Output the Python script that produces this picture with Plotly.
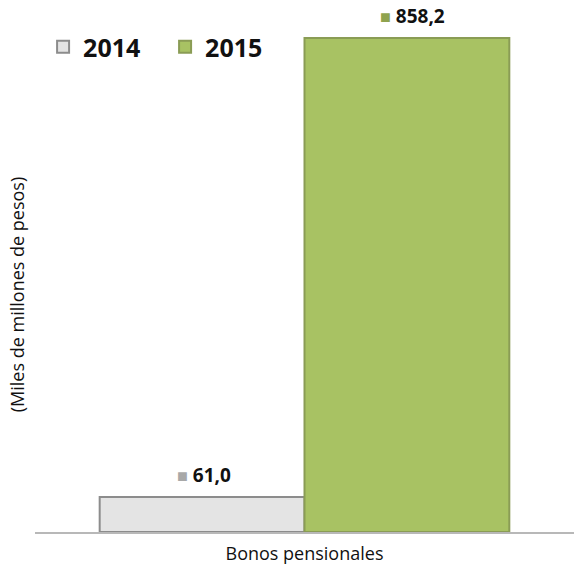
import plotly.graph_objects as go

# data
categories = ["Bonos pensionales"]
values_2014 = [61.0]
values_2015 = [858.2]
labels_2014 = ["61,0"]
labels_2015 = ["858,2"]

fill_colors = {"2014": "#e4e4e4", "2015": "#a8c263"}
edge_colors = {"2014": "#8c8c8c", "2015": "#8a9c55"}
square_colors = {"2014": "#a8a8a8", "2015": "#8fa34e"}

fig = go.Figure()

series = [("2014", values_2014, labels_2014, -101),
          ("2015", values_2015, labels_2015, 108)]

for year, vals, labs, shift in series:
    fig.add_trace(go.Bar(
        x=categories,
        y=vals,
        name=f"<b>{year}</b>",
        marker=dict(color=fill_colors[year], line=dict(color=edge_colors[year], width=2)),
        hoverinfo="x+y",
    ))
    # value label above each bar
    for cat, v, t in zip(categories, vals, labs):
        fig.add_annotation(
            x=cat, y=v, xref="x", yref="y",
            xshift=shift, yshift=7,
            yanchor="bottom",
            showarrow=False,
            text=f"<span style='color:{square_colors[year]};font-size:18px'>■</span> <b>{t}</b>",
            font=dict(size=19, color="#111111"),
        )

fig.update_layout(
    width=574,
    height=565,
    barmode="group",
    bargap=0.24,
    bargroupgap=0,
    plot_bgcolor="white",
    paper_bgcolor="white",
    margin=dict(l=35, r=0, t=10, b=33),
    font=dict(family="Open Sans", color="#111111"),
    showlegend=True,
    legend=dict(
        orientation="h",
        x=0.015,
        y=0.929,
        xanchor="left",
        yanchor="middle",
        font=dict(size=25, color="#111111"),
        entrywidth=77,
        bgcolor="rgba(0,0,0,0)",
        itemclick=False,
    ),
    xaxis=dict(
        showline=True,
        linecolor="#b8b8b8",
        linewidth=2,
        ticks="",
        ticklabelstandoff=4,
        tickfont=dict(size=18, color="#111111"),
    ),
    yaxis=dict(
        range=[0, 907],
        showgrid=False,
        showticklabels=False,
        zeroline=False,
        showline=False,
    ),
    annotations=list(fig.layout.annotations) + [dict(
        text="(Miles de millones de pesos)",
        xref="paper", yref="paper",
        x=-0.033, y=0.454,
        xanchor="center", yanchor="middle",
        textangle=-90,
        showarrow=False,
        font=dict(size=18, color="#111111"),
    )],
)

# drop the default 8px body margin so the figure fills the window
fig.write_html("out.html", config={"displayModeBar": False},
               post_script="document.body.style.margin='0';")
